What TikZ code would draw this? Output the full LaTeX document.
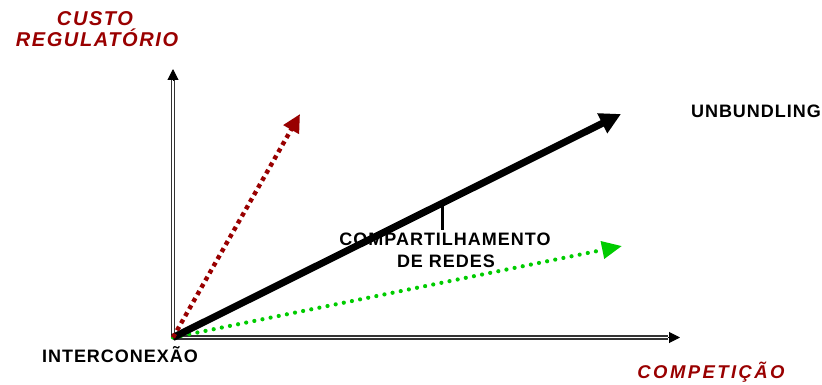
\documentclass[tikz,border=0pt]{standalone}
\usepackage{fontspec}
\setmainfont{Liberation Sans}
\usetikzlibrary{arrows.meta}
\definecolor{darkred}{HTML}{990000}
\definecolor{brightgreen}{HTML}{00CC00}
\definecolor{axisgray}{HTML}{333333}
\tikzset{
  blacklabel/.style={font=\fontsize{18}{20}\selectfont\bfseries\addfontfeature{LetterSpace=5.5}, text=black, inner sep=0pt, anchor=base},
  redlabel/.style={font=\fontsize{20}{22}\selectfont\bfseries\itshape\addfontfeature{LetterSpace=8}, text=darkred, inner sep=0pt, anchor=base},
  axisline/.style={draw=axisgray, line width=1.3pt, double=white, double distance=1.6pt},
  axistip/.style={-{Triangle[length=11pt,width=11pt]}, line width=1pt, draw=black},
  redarrow/.style={darkred, line width=4.4pt, dash pattern=on 4.2pt off 4pt, -{Triangle[length=18pt,width=17pt]}},
  greenarrow/.style={brightgreen, line width=4.2pt, line cap=round, dash pattern=on 0pt off 8.3pt, -{Triangle[length=20pt,width=17pt]}},
  blackarrow/.style={black, line width=7pt, -{Triangle[length=21pt,width=21pt]}},
  tickline/.style={black, line width=3.8pt}
}
\begin{document}
\begin{tikzpicture}[x=1pt,y=-1pt]
\useasboundingbox (0,0) rectangle (822,385);
% coordinates
\coordinate (O) at (173,337.5);
\coordinate (yend) at (173,80);
\coordinate (ytip) at (173,69);
\coordinate (xend) at (668,337.5);
\coordinate (xtip) at (680,337.5);
\coordinate (redtip) at (300,114);
\coordinate (blacktip) at (621,114);
\coordinate (greentip) at (622,246);
\coordinate (tickA) at (442.5,202.5);
\coordinate (tickB) at (442.5,230);
% axes
\draw[axisline] (O) -- (yend);
\draw[axisline] (O) -- (xend);
\draw[axistip] (yend) -- (ytip);
\draw[axistip] (xend) -- (xtip);
% arrows
\draw[greenarrow] (O) -- (greentip);
\draw[blackarrow] (O) -- (blacktip);
\draw[redarrow] (O) -- (redtip);
\draw[tickline] (tickA) -- (tickB);
% labels
\node[redlabel] (custo) at (95,26) {CUSTO};
\node[redlabel] (reg) at (97,46.5) {REGULATÓRIO};
\node[redlabel, font=\fontsize{18.5}{20}\selectfont\bfseries\itshape\addfontfeature{LetterSpace=13}] (comp) at (711,378) {COMPETIÇÃO};
\node[blacklabel] (unb) at (756,117.5) {UNBUNDLING};
\node[blacklabel] (compart) at (445,245) {COMPARTILHAMENTO};
\node[blacklabel] (redes) at (446,267) {DE REDES};
\node[blacklabel] (inter) at (120,362.5) {INTERCONEXÃO};
\end{tikzpicture}
\end{document}
